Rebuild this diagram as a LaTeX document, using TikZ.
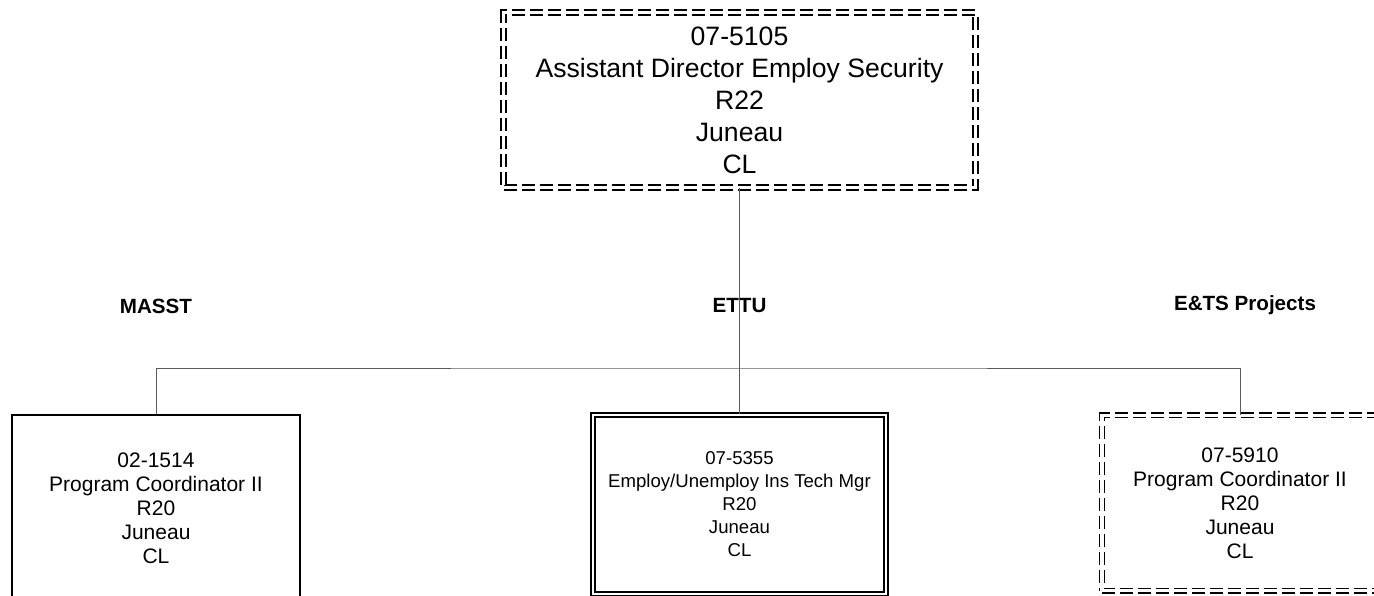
\documentclass[tikz,border=0pt]{standalone}
\usepackage{fontspec}
\setmainfont{Liberation Sans}
\usetikzlibrary{positioning}
\definecolor{chartLine}{RGB}{90, 90, 90}

\begin{document}
\begin{tikzpicture}[
  x=1pt, y=-1pt,
  post/.style={
    draw,
    line width=1.4pt,
    minimum width=288pt,
    minimum height=186pt,
    align=center,
    inner sep=0pt,
    font=\fontsize{21}{24}\selectfont
  },
  dashpost/.style={
    post,
    line width=1.4pt,
    dash pattern=on 13pt off 5pt,
    double,
    double distance=3.4pt
  },
  wallpost/.style={
    post,
    line width=1.2pt,
    double,
    double distance=2.8pt
  },
  group/.style={font=\fontsize{20.6}{24}\selectfont\bfseries},
  link/.style={draw=chartLine,line width=0.9pt}
]
  \clip (0,0) rectangle (1374,595);

  % director
  \node[dashpost, minimum width=472pt, minimum height=175pt,
        font=\fontsize{26.6}{32}\selectfont] (director) at (739.5,100)
    {07-5105\\Assistant Director Employ Security\\R22\\Juneau\\CL};

  % sections
  \node[group] (masst) at (156,306) {MASST};
  \node[group] (ettu) at (739.5,306) {ETTU};
  \node[group] (projects) at (1245,305) {E\&TS Projects};

  % positions
  \node[post] (masstbox) at (156,508)
    {02-1514\\Program Coordinator II\\R20\\Juneau\\CL};
  \node[wallpost, minimum width=293pt, minimum height=179pt,
        font=\fontsize{18.6}{23}\selectfont] (ettubox) at (739.5,504.5)
    {07-5355\\Employ/Unemploy Ins Tech Mgr\\R20\\Juneau\\CL};
  \node[dashpost, line width=1.3pt, minimum width=276pt,
        minimum height=175.5pt] (projbox) at (1240,503)
    {07-5910\\Program Coordinator II\\R20\\Juneau\\CL};

  \coordinate (bus) at (739.5,368);

  \draw[link] (director.south) -- (ettubox.north);
  \draw[link] (masstbox.north) |- (bus) -| (projbox.north);
\end{tikzpicture}
\end{document}
